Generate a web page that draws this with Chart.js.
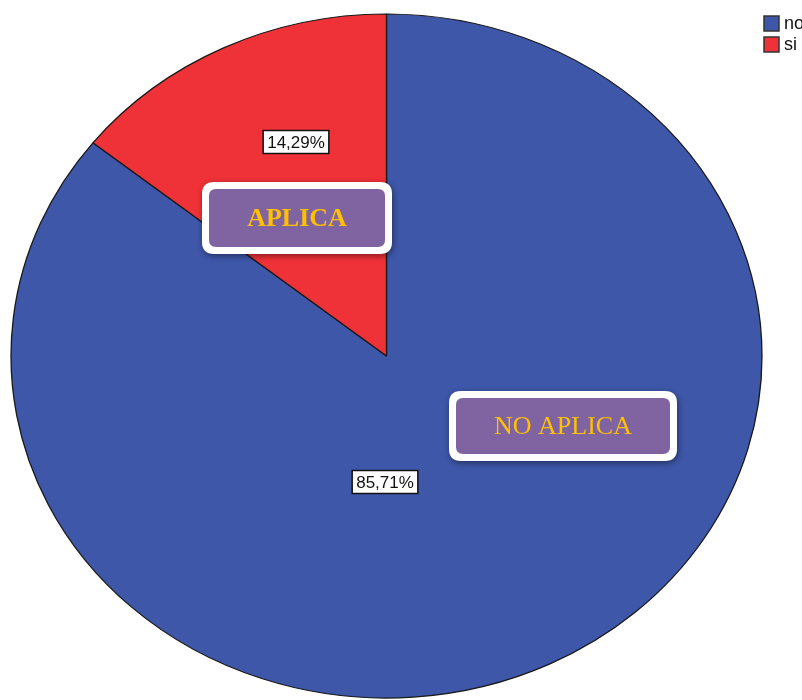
<!DOCTYPE html>
<html>
<head>
<meta charset="utf-8">
<script src="https://cdn.jsdelivr.net/npm/chart.js@4.4.1/dist/chart.umd.min.js"></script>
<style>
  html, body { margin: 0; padding: 0; background: #fff; }
  #wrap { width: 802px; height: 700px; position: relative; }
</style>
</head>
<body>
<div id="wrap"><canvas id="pieChart"></canvas></div>
<script>
// datos del gráfico
const categorias = ['no', 'si'];
const frecuencias = [6, 1];
const colores = ['#3e57a9', '#ef3238'];

// etiquetas de porcentaje (posición a mano, como en el original)
const etiquetasPct = [
    { x: 385, y: 482 },
    { x: 296, y: 142 }
];

// cuadros "APLICA" / "NO APLICA"
const cuadros = [
    { texto: 'APLICA', x: 202, y: 182, w: 190, h: 72, negrita: true },
    { texto: 'NO APLICA', x: 449, y: 391, w: 228, h: 70, negrita: false }
];

const total = frecuencias.reduce((a, b) => a + b, 0);
const escalaX = 375.5 / 342; // la torta del original es un poco ovalada

function rectRedondo(ctx, x, y, w, h, r) {
    ctx.beginPath();
    ctx.moveTo(x + r, y);
    ctx.lineTo(x + w - r, y);
    ctx.quadraticCurveTo(x + w, y, x + w, y + r);
    ctx.lineTo(x + w, y + h - r);
    ctx.quadraticCurveTo(x + w, y + h, x + w - r, y + h);
    ctx.lineTo(x + r, y + h);
    ctx.quadraticCurveTo(x, y + h, x, y + h - r);
    ctx.lineTo(x, y + r);
    ctx.quadraticCurveTo(x, y, x + r, y);
    ctx.closePath();
}

// estira la torta en horizontal
const elipse = {
    id: 'elipse',
    beforeDatasetsDraw(chart) {
        const arc = chart.getDatasetMeta(0).data[0];
        const ctx = chart.ctx;
        ctx.save();
        ctx.translate(arc.x, arc.y);
        ctx.scale(escalaX, 1);
        ctx.translate(-arc.x, -arc.y);
    },
    afterDatasetsDraw(chart) {
        chart.ctx.restore();
    }
};

const extras = {
    id: 'extras',
    afterDraw(chart) {
        const ctx = chart.ctx;
        const valores = chart.data.datasets[0].data;

        // porcentajes
        ctx.save();
        ctx.font = '17px "Liberation Sans", Arial, sans-serif';
        ctx.textAlign = 'center';
        ctx.textBaseline = 'middle';
        valores.forEach((v, i) => {
            const txt = (v / total * 100).toFixed(2).replace('.', ',') + '%';
            const p = etiquetasPct[i];
            const w = ctx.measureText(txt).width + 8;
            const h = 23;
            ctx.fillStyle = '#fff';
            ctx.fillRect(p.x - w / 2, p.y - h / 2, w, h);
            ctx.strokeStyle = '#111';
            ctx.lineWidth = 1.5;
            ctx.strokeRect(p.x - w / 2, p.y - h / 2, w, h);
            ctx.fillStyle = '#111';
            ctx.fillText(txt, p.x, p.y + 1);
        });
        ctx.restore();

        // cuadros morados
        cuadros.forEach(c => {
            ctx.save();
            ctx.shadowColor = 'rgba(0,0,0,0.45)';
            ctx.shadowBlur = 6;
            ctx.shadowOffsetX = 1;
            ctx.shadowOffsetY = 2;
            rectRedondo(ctx, c.x, c.y, c.w, c.h, 12);
            ctx.fillStyle = '#fff';
            ctx.fill();
            ctx.restore();
            ctx.save();
            rectRedondo(ctx, c.x + 7, c.y + 7, c.w - 14, c.h - 14, 7);
            ctx.fillStyle = '#8064a2';
            ctx.fill();
            ctx.font = (c.negrita ? 'bold ' : '') + '26px "Liberation Serif", "Times New Roman", serif';
            ctx.fillStyle = '#ffc000';
            ctx.textAlign = 'center';
            ctx.textBaseline = 'middle';
            ctx.fillText(c.texto, c.x + c.w / 2, c.y + c.h / 2 + 1);
            ctx.restore();
        });

        // leyenda arriba a la derecha
        ctx.save();
        ctx.font = '18px "Liberation Sans", Arial, sans-serif';
        ctx.textBaseline = 'middle';
        chart.data.labels.forEach((lab, i) => {
            const y = 16 + i * 21;
            ctx.fillStyle = chart.data.datasets[0].backgroundColor[i];
            ctx.fillRect(764, y, 15, 15);
            ctx.strokeStyle = '#333';
            ctx.lineWidth = 1.5;
            ctx.strokeRect(764, y, 15, 15);
            ctx.fillStyle = '#111';
            ctx.fillText(lab, 784, y + 8);
        });
        ctx.restore();
    }
};

let pieCtx = document.getElementById('pieChart').getContext('2d');

let pieChart = new Chart(pieCtx, {
    type: 'pie',
    data: {
        labels: categorias,
        datasets: [{
            data: frecuencias,
            backgroundColor: colores,
            borderColor: '#1a1a1a',
            borderWidth: 1.2,
            radius: 342
        }]
    },
    options: {
        responsive: true,
        maintainAspectRatio: false,
        animation: false,
        layout: { padding: { left: 0, right: 29, top: 12, bottom: 0 } },
        plugins: {
            legend: { display: false },
            tooltip: { enabled: false }
        }
    },
    plugins: [elipse, extras]
});
</script>
</body>
</html>
